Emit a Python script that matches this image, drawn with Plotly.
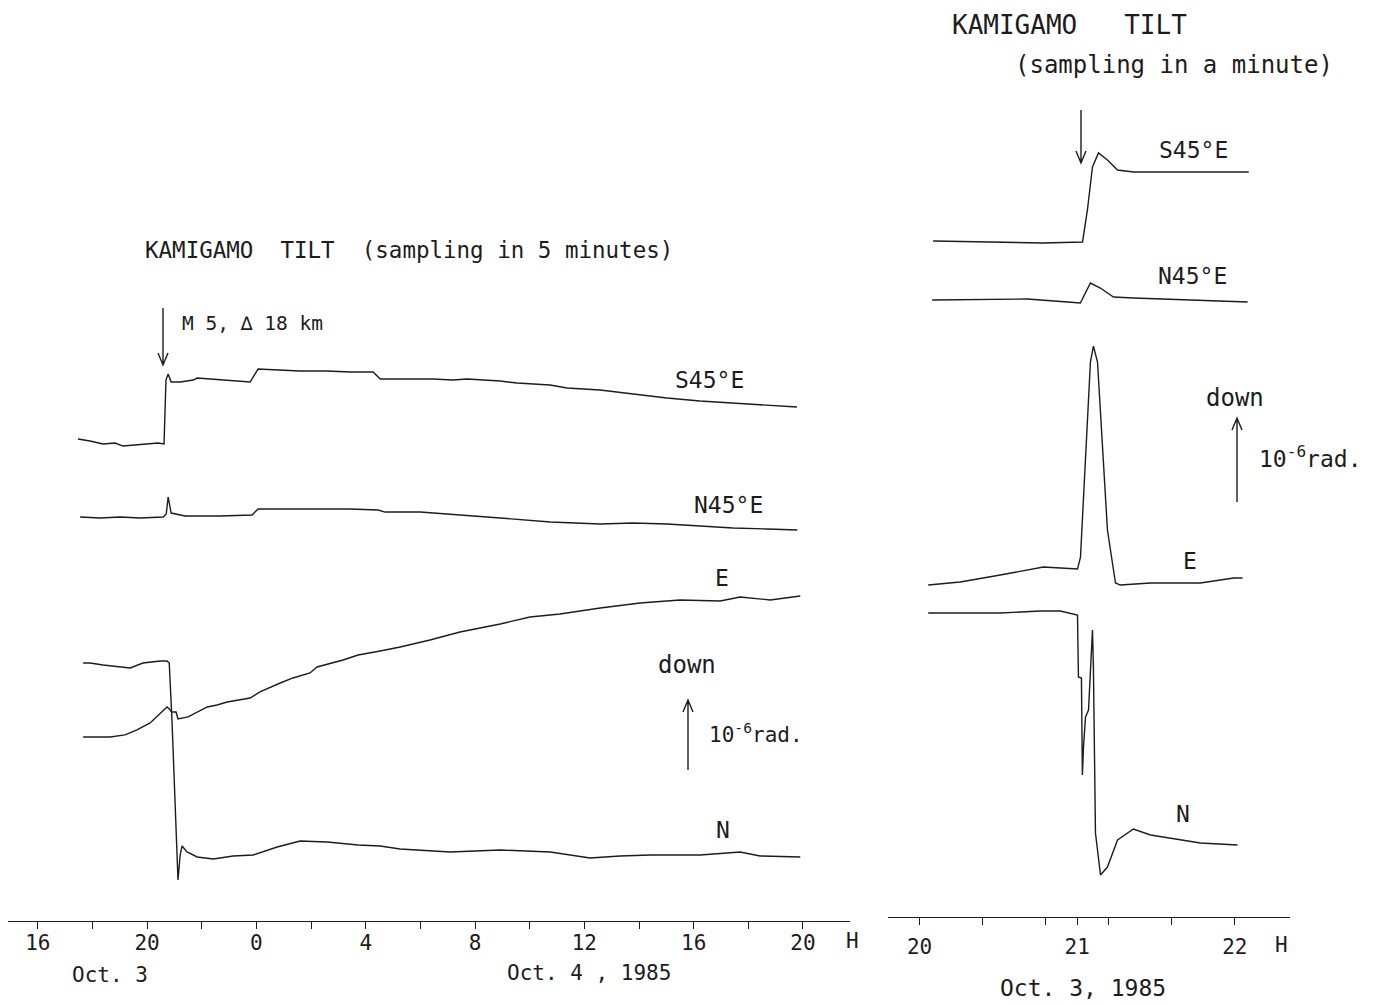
import plotly.graph_objects as go

W, H = 1380, 1005
INK = "#1c1c1c"
FONT = "DejaVu Sans Mono"

# ---------------- LEFT PANEL (sampling in 5 minutes), time in hours from Oct 3 00:00, tilt in micro-rad
left_s45e_t = [17.47, 17.91, 18.39, 18.83, 19.12, 19.56, 20.00, 20.40, 20.62, 20.69, 20.77, 20.88, 21.21,
               21.69, 21.83, 22.31, 23.04, 23.51, 23.77, 24.06, 24.76, 25.60, 26.59, 27.43, 28.27, 28.53,
               29.62, 30.46, 31.19, 31.71, 32.92, 33.54, 34.74, 35.37, 36.57, 37.78, 39.02, 40.23, 41.44,
               42.68, 43.78]
left_s45e_v = [0.014, -0.014, -0.057, -0.043, -0.086, -0.071, -0.057, -0.043, -0.057, 0.857, 0.943, 0.829,
               0.829, 0.857, 0.886, 0.871, 0.857, 0.843, 0.829, 1.014, 1.000, 0.986, 0.986, 0.971, 0.971,
               0.871, 0.871, 0.871, 0.857, 0.871, 0.843, 0.814, 0.786, 0.743, 0.714, 0.657, 0.600, 0.557,
               0.529, 0.500, 0.471]

left_n45e_t = [17.55, 18.28, 19.01, 19.74, 20.59, 20.70, 20.77, 20.88, 21.39, 22.67, 23.84, 24.06, 25.60,
               27.43, 28.45, 28.71, 29.99, 31.09, 32.92, 34.75, 36.58, 37.78, 39.03, 40.24, 41.44, 42.69,
               43.79]
left_n45e_v = [0.000, -0.014, 0.000, -0.014, 0.000, 0.043, 0.286, 0.057, 0.014, 0.014, 0.029, 0.114, 0.114,
               0.114, 0.100, 0.071, 0.071, 0.043, -0.014, -0.071, -0.100, -0.086, -0.100, -0.129, -0.157,
               -0.171, -0.186]

left_e_t = [17.66, 18.65, 19.19, 19.63, 20.11, 20.48, 20.73, 20.81, 20.91, 21.06, 21.13, 21.50, 22.20,
            22.56, 22.93, 23.77, 24.13, 24.87, 25.34, 25.96, 26.22, 27.17, 27.72, 28.53, 29.26, 30.35,
            31.45, 32.92, 34.01, 35.11, 36.58, 38.04, 39.50, 40.97, 41.70, 42.80, 43.90]
left_e_v = [0.000, 0.000, 0.029, 0.100, 0.200, 0.329, 0.429, 0.400, 0.357, 0.357, 0.257, 0.286, 0.429,
            0.457, 0.500, 0.557, 0.643, 0.771, 0.843, 0.914, 1.000, 1.100, 1.171, 1.229, 1.286, 1.386,
            1.500, 1.614, 1.714, 1.757, 1.843, 1.914, 1.957, 1.943, 2.000, 1.957, 2.014]

left_n_t = [17.66, 17.91, 18.39, 19.38, 19.85, 20.48, 20.73, 20.81, 20.91, 21.06, 21.13, 21.21, 21.28,
            21.46, 21.83, 22.42, 23.15, 23.88, 24.76, 25.60, 26.59, 27.72, 28.53, 29.26, 31.09, 32.92,
            34.75, 36.21, 37.31, 38.41, 40.24, 41.70, 42.43, 43.90]
left_n_v = [0.000, 0.000, -0.029, -0.071, 0.000, 0.029, 0.029, 0.000, -0.814, -2.529, -3.100, -2.743,
            -2.614, -2.700, -2.771, -2.800, -2.757, -2.743, -2.629, -2.543, -2.557, -2.600, -2.614, -2.657,
            -2.700, -2.671, -2.700, -2.786, -2.757, -2.743, -2.743, -2.700, -2.757, -2.771]

# ---------------- RIGHT PANEL (sampling in a minute), time in hours on Oct 3
right_s45e_t = [20.086, 20.512, 20.786, 21.034, 21.065, 21.097, 21.135, 21.192, 21.256, 21.357, 21.675, 22.088]
right_s45e_v = [0.000, -0.012, -0.024, -0.012, 0.369, 0.881, 1.048, 0.964, 0.845, 0.821, 0.821, 0.821]

right_n45e_t = [20.080, 20.684, 20.938, 21.020, 21.084, 21.147, 21.230, 21.357, 22.081]
right_n45e_v = [0.000, 0.012, -0.024, -0.036, 0.202, 0.143, 0.036, 0.024, -0.024]

right_e_t = [20.055, 20.258, 20.512, 20.786, 21.002, 21.021, 21.084, 21.103, 21.129, 21.192, 21.243,
             21.274, 21.465, 21.782, 21.992, 22.049]
right_e_v = [0.000, 0.036, 0.119, 0.214, 0.190, 0.333, 2.655, 2.845, 2.655, 0.655, 0.024, 0.000, 0.024,
             0.024, 0.083, 0.083]

right_n_t = [20.055, 20.512, 20.766, 20.893, 21.002, 21.008, 21.027, 21.033, 21.040, 21.053, 21.072,
             21.097, 21.103, 21.116, 21.148, 21.192, 21.256, 21.357, 21.465, 21.675, 21.782, 22.017]
right_n_v = [0.000, 0.000, 0.024, 0.024, -0.024, -0.762, -0.774, -1.929, -1.595, -1.238, -1.155, -0.202,
             -0.643, -2.619, -3.119, -3.024, -2.702, -2.571, -2.643, -2.702, -2.738, -2.762]

# ---------------- axes ticks / labels
left_tick_vals = [16, 20, 24, 28, 32, 36, 40, 44]
left_tick_text = ["16", "20", "0", "4", "8", "12", "16", "20"]
left_minor_vals = [18, 22, 26, 30, 34, 38, 42]
right_tick_vals = [20, 21, 22]
right_tick_text = ["20", "21", "22"]
right_minor_vals = [20.4, 20.8, 21.2, 21.6]

# vertical placement of each trace baseline (micro-rad on the panel's axis)
left_offsets = {"S45E": 6.871, "N45E": 5.771, "E": 2.629, "N": 3.686}
right_offsets = {"S45E": 8.048, "N45E": 7.345, "E": 3.952, "N": 3.619}


def px(x):
    return x / W


def py(y):
    return 1 - y / H


fig = go.Figure()
line = dict(color=INK, width=1.4)

for t, v, k in [(left_s45e_t, left_s45e_v, "S45E"), (left_n45e_t, left_n45e_v, "N45E"),
                (left_e_t, left_e_v, "E"), (left_n_t, left_n_v, "N")]:
    fig.add_trace(go.Scatter(x=t, y=[left_offsets[k] + a for a in v], mode="lines", line=line,
                             xaxis="x", yaxis="y", showlegend=False, hoverinfo="skip"))

for t, v, k in [(right_s45e_t, right_s45e_v, "S45E"), (right_n45e_t, right_n45e_v, "N45E"),
                (right_e_t, right_e_v, "E"), (right_n_t, right_n_v, "N")]:
    fig.add_trace(go.Scatter(x=t, y=[right_offsets[k] + a for a in v], mode="lines", line=line,
                             xaxis="x2", yaxis="y2", showlegend=False, hoverinfo="skip"))

tickfont = dict(family=FONT, size=21, color=INK)
common = dict(showgrid=False, zeroline=False, showline=True, linecolor=INK, linewidth=1.3,
              tickcolor=INK, tickwidth=1.3, fixedrange=True)

left_dom = [px(8), px(850)]
right_dom = [px(888), px(1290)]
left_range = [14.91, 45.72]
right_range = [19.80, 22.35]

fig.update_layout(
    width=W, height=H, margin=dict(l=0, r=0, t=0, b=0),
    paper_bgcolor="white", plot_bgcolor="white",
    xaxis=dict(domain=left_dom, range=left_range, anchor="y", tickmode="array",
               tickvals=left_tick_vals, ticktext=left_tick_text, ticks="outside", ticklen=7,
               ticklabelstandoff=-4,
               tickfont=tickfont, minor=dict(tickvals=left_minor_vals, ticks="outside", ticklen=7,
                                             tickcolor=INK, tickwidth=1.3), **common),
    xaxis3=dict(overlaying="x", anchor="y", range=left_range, tickmode="array",
                tickvals=left_tick_vals + left_minor_vals, ticks="inside", ticklen=7,
                showticklabels=False, showgrid=False, zeroline=False, showline=False,
                tickcolor=INK, tickwidth=1.3, fixedrange=True),
    yaxis=dict(domain=[py(921), py(300)], range=[0, (921 - 300) / 70], visible=False, fixedrange=True),
    xaxis2=dict(domain=right_dom, range=right_range, anchor="y2", tickmode="array",
                tickvals=right_tick_vals, ticktext=right_tick_text, ticks="outside", ticklen=7,
                ticklabelstandoff=4,
                tickfont=tickfont, minor=dict(tickvals=right_minor_vals, ticks="outside", ticklen=7,
                                              tickcolor=INK, tickwidth=1.3), **common),
    xaxis4=dict(overlaying="x2", anchor="y2", range=right_range, tickmode="array",
                tickvals=[20, 20.4, 20.8, 21.2, 21.6, 22], ticks="inside", ticklen=7,
                showticklabels=False, showgrid=False, zeroline=False, showline=False,
                tickcolor=INK, tickwidth=1.3, fixedrange=True),
    yaxis2=dict(domain=[py(917), py(100)], range=[0, (917 - 100) / 84], visible=False, fixedrange=True),
)

NB = "\u00a0"
annots = [
    # left panel
    ("KAMIGAMO" + NB * 2 + "TILT" + NB * 2 + "(sampling in 5 minutes)", 143, 250, "left", 22.5),
    ("M 5," + NB + "\u2206" + NB + "18 km", 180, 323, "left", 19.5),
    ("S45°E", 710, 380, "center", 23),
    ("N45°E", 728, 505, "center", 23),
    ("E", 722, 578, "center", 23),
    ("N", 723, 830, "center", 23),
    ("down", 687, 665, "center", 24),
    ("10<sup>-6</sup>rad.", 707, 733, "left", 21),
    ("H", 853, 941, "center", 21),
    ("Oct. 3", 70, 975, "left", 21),
    ("Oct. 4" + NB + "," + NB + "1985", 505, 973, "left", 21),
    # right panel
    ("KAMIGAMO" + NB * 3 + "TILT", 950, 25, "left", 26),
    ("(sampling in a minute)", 1013, 65, "left", 24),
    ("S45°E", 1193, 150, "center", 23),
    ("N45°E", 1192, 276, "center", 23),
    ("E", 1190, 561, "center", 23),
    ("N", 1183, 814, "center", 23),
    ("down", 1235, 398, "center", 24),
    ("10<sup>-6</sup>rad.", 1257, 457, "left", 23),
    ("H", 1281, 945, "center", 21),
    ("Oct. 3, 1985", 998, 988, "left", 23),
]
for text, x, y, anchor, size in annots:
    fig.add_annotation(text=text, x=px(x), y=py(y), xref="paper", yref="paper", xanchor=anchor,
                       yanchor="middle", showarrow=False,
                       font=dict(family=FONT, size=size, color=INK))


def arrow(x, y_tail, y_head):
    d = 12 if y_head > y_tail else -12
    path = (f"M {px(x)},{py(y_tail)} L {px(x)},{py(y_head)} "
            f"M {px(x - 5)},{py(y_head - d)} L {px(x)},{py(y_head)} L {px(x + 5)},{py(y_head - d)}")
    fig.add_shape(type="path", path=path, xref="paper", yref="paper", line=dict(color=INK, width=1.4))


arrow(163, 308, 365)
arrow(688, 770, 700)
arrow(1081, 110, 163)
arrow(1237, 502, 418)

fig.write_html("out.html", config={"displayModeBar": False},
               post_script="document.body.style.margin='0px';document.body.style.overflow='hidden';")
